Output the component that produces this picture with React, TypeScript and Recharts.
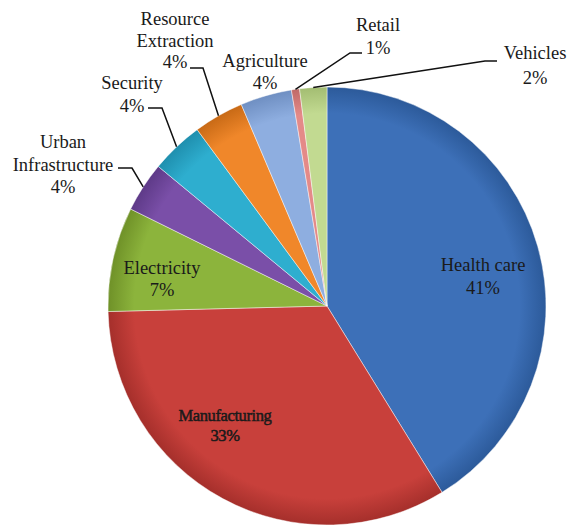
import React from 'react';
import { PieChart, Pie, Cell } from 'recharts';

// sectors, clockwise from 12 o'clock
const sectors = [
  'Health care',
  'Manufacturing',
  'Electricity',
  'Urban Infrastructure',
  'Security',
  'Resource Extraction',
  'Agriculture',
  'Retail',
  'Vehicles',
];
const shares = [41.2, 33.4, 7.7, 3.7, 3.9, 3.7, 3.8, 0.6, 2.0];
const shareLabels = ['41%', '33%', '7%', '4%', '4%', '4%', '4%', '1%', '2%'];
const labelLines = [
  ['Health care'],
  ['Manufacturing'],
  ['Electricity'],
  ['Urban', 'Infrastructure'],
  ['Security'],
  ['Resource', 'Extraction'],
  ['Agriculture'],
  ['Retail'],
  ['Vehicles'],
];

const colors = ['#3d70b8', '#c8403b', '#8cb43c', '#7a4fa8', '#2eaecf', '#f0872a', '#8eaee0', '#e48a88', '#c2da91'];
const rims = ['#2c5a9a', '#a52f2b', '#6f9128', '#5e3a88', '#1f8fae', '#c86a16', '#6f8fc2', '#c06a68', '#a3bd72'];

const data = sectors.map((name, i) => ({ name, value: shares[i] }));

const W = 569;
const H = 526;
const CX = 327;
const CY = 306;
const R = 219;

const FONT = "'Liberation Serif', 'Times New Roman', serif";

// label placement: text centre, line gap, leader line start + elbow (null = no leader)
const layout: {
  x: number;
  y: number;
  gap: number;
  size: number;
  heavy?: boolean;
  leader: [number, number, number, number] | null;
}[] = [
  { x: 483, y: 265, gap: 23, size: 18.5, leader: null },
  { x: 225, y: 415, gap: 20, size: 16.5, heavy: true, leader: null },
  { x: 162, y: 268, gap: 22, size: 18.5, leader: null },
  { x: 63, y: 142, gap: 22.5, size: 18.5, leader: [118, 168, 132, 168] },
  { x: 132, y: 83, gap: 23, size: 18.5, leader: [148, 108, 162, 108] },
  { x: 175, y: 19, gap: 21.5, size: 18.5, leader: [190, 68, 203, 68] },
  { x: 265, y: 61, gap: 21.5, size: 18.5, leader: null },
  { x: 378, y: 25, gap: 23, size: 18.5, leader: [362, 53, 350, 53] },
  { x: 535, y: 53, gap: 25, size: 18.5, leader: [497, 61, 485, 61] },
];

const RAD = Math.PI / 180;

const renderLabel = (props: any) => {
  const { cx, cy, midAngle, outerRadius, index } = props;
  const l = layout[index];
  const lines = [...labelLines[index], shareLabels[index]];
  let leader = null;
  if (l.leader) {
    const tx = cx + outerRadius * Math.cos(-midAngle * RAD);
    const ty = cy + outerRadius * Math.sin(-midAngle * RAD);
    const [sx, sy, ex, ey] = l.leader;
    leader = (
      <polyline
        points={`${sx},${sy} ${ex},${ey} ${tx},${ty}`}
        fill="none"
        stroke="#111"
        strokeWidth={1.5}
      />
    );
  }
  return (
    <g key={`lbl-${index}`}>
      {leader}
      {lines.map((t, k) => (
        <text
          key={k}
          x={l.x}
          y={l.y + k * l.gap}
          textAnchor="middle"
          dominantBaseline="central"
          fontFamily={FONT}
          fontSize={l.size}
          fill="#1a1a1a"
          stroke={l.heavy ? '#1a1a1a' : 'none'}
          strokeWidth={l.heavy ? 0.5 : 0}
          letterSpacing={l.heavy ? -0.4 : 0}
        >
          {t}
        </text>
      ))}
    </g>
  );
};

export default function App() {
  return (
    <div style={{ position: 'absolute', left: 0, top: 0, width: W, height: H, background: '#fff' }}>
      <PieChart width={W} height={H} margin={{ top: 0, right: 0, bottom: 0, left: 0 }}>
        <defs>
          {colors.map((c, i) => (
            <radialGradient key={i} id={`sg${i}`} gradientUnits="userSpaceOnUse" cx={CX} cy={CY} r={R}>
              <stop offset="0%" stopColor={c} />
              <stop offset="88%" stopColor={c} />
              <stop offset="100%" stopColor={rims[i]} />
            </radialGradient>
          ))}
        </defs>
        <Pie
          data={data}
          dataKey="value"
          nameKey="name"
          cx={CX}
          cy={CY}
          outerRadius={R}
          startAngle={90}
          endAngle={-270}
          label={renderLabel}
          labelLine={false}
          stroke="rgba(255,255,255,0.45)"
          strokeWidth={1}
          isAnimationActive={false}
        >
          {data.map((d, i) => (
            <Cell key={d.name} fill={`url(#sg${i})`} />
          ))}
        </Pie>
      </PieChart>
    </div>
  );
}
